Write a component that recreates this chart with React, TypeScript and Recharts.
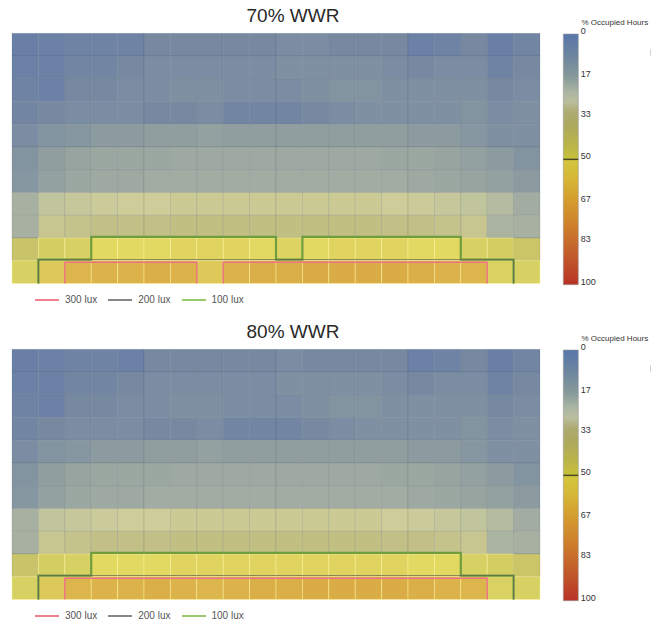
import React from "react";
import {
  ComposedChart,
  BarChart,
  Bar,
  Scatter,
  XAxis,
  YAxis,
  ReferenceLine,
  Legend,
} from "recharts";

// grid size (columns across the room, rows from window wall at the top)
const COLS = 20;
const ROWS = 11;

// % occupied hours, 70% WWR, row by row from the top
const WWR70 = [
  [4, 5, 6, 6, 6, 8, 8, 8, 8, 8, 9, 9, 8, 8, 8, 5, 6, 8, 4, 7],
  [5, 5, 7, 7, 8, 9, 9, 9, 9, 9, 10, 10, 10, 10, 9, 8, 9, 9, 6, 8],
  [6, 5, 8, 8, 9, 9, 10, 10, 9, 9, 9, 10, 11, 11, 10, 10, 10, 10, 8, 9],
  [7, 8, 9, 9, 9, 8, 8, 9, 7, 7, 7, 8, 9, 10, 10, 10, 10, 11, 9, 10],
  [9, 11, 12, 13, 13, 14, 14, 15, 14, 14, 14, 14, 14, 14, 14, 13, 13, 12, 10, 10],
  [11, 14, 16, 17, 17, 17, 18, 18, 18, 18, 18, 18, 18, 18, 17, 17, 16, 15, 13, 11],
  [12, 15, 17, 18, 18, 19, 19, 19, 19, 19, 19, 19, 19, 19, 19, 18, 17, 16, 15, 13],
  [20, 26, 27, 28, 29, 29, 30, 30, 30, 30, 30, 30, 30, 30, 29, 28, 27, 26, 23, 19],
  [20, 31, 32, 33, 33, 33, 34, 34, 34, 34, 34, 34, 34, 34, 33, 33, 32, 31, 21, 20],
  [41, 46, 47, 51, 51, 51, 52, 52, 52, 51, 49, 51, 52, 52, 52, 51, 51, 47, 46, 42],
  [47, 54, 58, 59, 59, 60, 59, 54, 59, 60, 60, 61, 61, 61, 61, 60, 59, 58, 48, 47],
];

// % occupied hours, 80% WWR
const WWR80 = [
  [4, 5, 6, 6, 5, 8, 8, 8, 8, 8, 9, 8, 8, 8, 8, 5, 6, 8, 4, 7],
  [5, 5, 7, 7, 8, 9, 9, 9, 9, 9, 10, 10, 10, 10, 9, 8, 9, 9, 6, 8],
  [6, 5, 8, 8, 9, 9, 10, 10, 9, 9, 9, 10, 11, 11, 10, 10, 10, 10, 8, 9],
  [7, 8, 9, 9, 9, 8, 8, 9, 7, 7, 7, 8, 9, 10, 10, 10, 10, 11, 9, 10],
  [9, 11, 12, 13, 13, 14, 14, 15, 14, 14, 14, 14, 14, 14, 14, 13, 13, 12, 10, 10],
  [11, 14, 16, 17, 17, 17, 18, 18, 18, 18, 18, 18, 18, 18, 17, 17, 16, 15, 13, 11],
  [12, 15, 17, 18, 18, 19, 19, 19, 19, 19, 19, 19, 19, 19, 19, 18, 17, 16, 15, 13],
  [20, 26, 27, 28, 29, 29, 30, 30, 30, 30, 30, 30, 30, 30, 29, 28, 27, 26, 23, 19],
  [20, 31, 32, 33, 33, 33, 34, 34, 34, 34, 34, 34, 34, 34, 33, 33, 32, 31, 21, 20],
  [41, 46, 47, 51, 51, 51, 52, 52, 52, 52, 52, 52, 52, 52, 52, 51, 51, 47, 46, 42],
  [47, 54, 58, 59, 59, 60, 59, 58, 59, 60, 60, 61, 61, 61, 61, 60, 59, 58, 48, 47],
];

// illuminance contours, vertices in grid units [column edge, row edge]
const LUX100_70 = [[1, 11], [1, 10], [3, 10], [3, 9], [10, 9], [10, 10], [11, 10], [11, 9], [17, 9], [17, 10], [19, 10], [19, 11]];
const LUX200_70 = [[1, 11], [1, 10], [19, 10], [19, 11]];
const LUX300_70A = [[2, 11], [2, 10], [7, 10], [7, 11]];
const LUX300_70B = [[8, 11], [8, 10], [18, 10], [18, 11]];

const LUX100_80 = [[1, 11], [1, 10], [3, 10], [3, 9], [17, 9], [17, 10], [19, 10], [19, 11]];
const LUX200_80 = [[1, 11], [1, 10], [19, 10], [19, 11]];
const LUX300_80 = [[2, 11], [2, 10], [18, 10], [18, 11]];

const SCALE_TICKS = [0, 17, 33, 50, 67, 83, 100];

const LEGEND_ITEMS = [
  { label: "300 lux", color: "#ec7480" },
  { label: "200 lux", color: "#7a7a7a" },
  { label: "100 lux", color: "#8dc35b" },
];

// colour of the cells (washed out) and of the scale bar
const CELL_RAMP: [number, string][] = [
  [0, "#6279a8"], [5, "#6b81a6"], [8, "#7689a1"], [10, "#7e90a2"], [13, "#8c9ba0"],
  [16, "#97a4a0"], [19, "#a2aca2"], [24, "#b9bf9f"], [29, "#cecd99"], [33, "#c2bf87"],
  [38, "#c2be70"], [44, "#cfc962"], [48, "#d9d262"], [51, "#e2d962"], [54, "#ddc85a"],
  [58, "#dcb64c"], [62, "#d9a843"], [67, "#d69a3c"], [83, "#cc6a30"], [100, "#bb3328"],
];
const BAR_RAMP: [number, string][] = [
  [0, "#5876ab"], [8, "#6a849f"], [17, "#86999a"], [23, "#aab5a2"], [27, "#b9be9d"],
  [31, "#aeab74"], [36, "#aca860"], [44, "#bab44a"], [49.5, "#c6c03c"], [50.5, "#d3c63e"],
  [58, "#d6b636"], [67, "#d49a2e"], [75, "#cf842c"], [83, "#c76b2c"], [92, "#bf4f2a"],
  [100, "#b83226"],
];

const FONT = "'Liberation Sans', Arial, sans-serif";
const W = 663;
const H = 309;
const MARGIN = { top: 33.3, left: 12, right: 123, bottom: 25.5 };
const CELL_W = (W - MARGIN.left - MARGIN.right) / COLS;
const CELL_H = (H - MARGIN.top - MARGIN.bottom) / ROWS;

function hex(c: string) {
  return [1, 3, 5].map((i) => parseInt(c.slice(i, i + 2), 16));
}

function rampColor(ramp: [number, string][], v: number) {
  for (let i = 1; i < ramp.length; i++) {
    if (v <= ramp[i][0]) {
      const [v0, c0] = ramp[i - 1];
      const [v1, c1] = ramp[i];
      const t = (v - v0) / (v1 - v0);
      const a = hex(c0);
      const b = hex(c1);
      return `rgb(${a.map((x, k) => Math.round(x + (b[k] - x) * t)).join(",")})`;
    }
  }
  return ramp[ramp.length - 1][1];
}

const CellShape = (props: any) => {
  const { cx, cy } = props;
  const v = props.payload?.v ?? props.v;
  return (
    <rect
      x={cx - CELL_W / 2}
      y={cy - CELL_H / 2}
      width={CELL_W}
      height={CELL_H}
      fill={rampColor(CELL_RAMP, v)}
      stroke={v < 45 ? "rgba(50,60,80,0.16)" : "rgba(255,248,160,0.55)"}
      strokeWidth={0.8}
    />
  );
};

const NoDot = () => <g />;

function toLine(pts: number[][], dy: number) {
  return pts.map(([x, y]) => ({ x, y: y < ROWS ? y + dy : y }));
}

function LegendRow() {
  return (
    <div style={{ display: "flex", alignItems: "center", fontFamily: FONT, fontSize: 10, color: "#555" }}>
      {LEGEND_ITEMS.map((it) => (
        <div key={it.label} style={{ display: "flex", alignItems: "center", marginRight: 11 }}>
          <svg width={24} height={4} style={{ marginRight: 6 }}>
            <line x1={0} y1={2} x2={24} y2={2} stroke={it.color} strokeWidth={1.8} />
          </svg>
          <span>{it.label}</span>
        </div>
      ))}
    </div>
  );
}

const ScaleTick = (props: any) => {
  const { x, y, payload } = props;
  return (
    <text x={x} y={y - 3} dominantBaseline="central" fontSize={9} fill="#333" fontFamily={FONT}>
      {payload.value}
    </text>
  );
};

function ColorBar() {
  return (
    <div style={{ position: "absolute", left: 548, top: 0 }}>
      <div
        style={{
          position: "absolute",
          left: 33.5,
          top: 17.5,
          fontFamily: FONT,
          fontSize: 8,
          color: "#333",
          whiteSpace: "nowrap",
        }}
      >
        % Occupied Hours
      </div>
      <div style={{ position: "absolute", left: 102, top: 49, width: 1, height: 7, background: "#d4d4d4" }} />
      <BarChart
        width={115}
        height={H}
        data={[{ name: "scale", v: 100 }]}
        margin={{ top: 34, left: 15.3, right: 44.7, bottom: H - 284.7 }}
        barCategoryGap={0}
      >
        <defs>
          <linearGradient id="occGrad" x1="0" y1="0" x2="0" y2="1">
            {BAR_RAMP.map(([v, c]) => (
              <stop key={v} offset={`${v}%`} stopColor={c} />
            ))}
          </linearGradient>
        </defs>
        <XAxis dataKey="name" hide />
        <YAxis
          orientation="right"
          type="number"
          domain={[0, 100]}
          reversed
          ticks={SCALE_TICKS}
          interval={0}
          width={40}
          axisLine={false}
          tickLine={false}
          tickSize={0}
          tickMargin={2.5}
          tick={ScaleTick}
        />
        <Bar dataKey="v" fill="url(#occGrad)" stroke="#9a9a9a" strokeWidth={0.6} isAnimationActive={false} />
        <ReferenceLine y={50} stroke="#4a4a26" strokeWidth={1.5} />
      </BarChart>
    </div>
  );
}

function Panel({ title, grid, lux100, lux200, lux300, top }: any) {
  const cells: { x: number; y: number; v: number }[] = [];
  grid.forEach((row: number[], r: number) =>
    row.forEach((v, c) => cells.push({ x: c + 0.5, y: r + 0.5, v }))
  );
  const contourLines = [
    ...lux100.map((pts: number[][]) => ({ pts, dy: -0.05, stroke: "#6f9d3f", w: 2.2, o: 1 })),
    ...lux200.map((pts: number[][]) => ({ pts, dy: -0.05, stroke: "#5f6450", w: 1, o: 0.75 })),
    ...lux300.map((pts: number[][]) => ({ pts, dy: 0.07, stroke: "#ec7480", w: 1.5, o: 1 })),
  ];
  return (
    <div style={{ position: "absolute", left: 0, top, width: W, height: H }}>
      <div
        style={{
          position: "absolute",
          left: 0,
          width: 586,
          top: 5,
          textAlign: "center",
          fontFamily: FONT,
          fontSize: 19,
          color: "#2a2a2a",
        }}
      >
        {title}
      </div>
      <ComposedChart width={W} height={H} margin={MARGIN}>
        <XAxis type="number" dataKey="x" domain={[0, COLS]} hide />
        <YAxis type="number" dataKey="y" domain={[0, ROWS]} reversed hide />
        <Scatter data={cells} dataKey="y" shape={CellShape} isAnimationActive={false} legendType="none" />
        {contourLines.map((c, i) => (
          <Scatter
            key={i}
            data={toLine(c.pts, c.dy)}
            dataKey="y"
            shape={NoDot}
            line={{ stroke: c.stroke, strokeWidth: c.w, strokeOpacity: c.o, fill: "none" }}
            lineType="joint"
            legendType="none"
            isAnimationActive={false}
          />
        ))}
        <Legend
          verticalAlign="middle"
          layout="horizontal"
          content={() => <LegendRow />}
          wrapperStyle={{ position: "absolute", left: 35, top: 294, width: 320, height: 14 }}
        />
      </ComposedChart>
      <ColorBar />
    </div>
  );
}

export default function App() {
  return (
    <div style={{ position: "absolute", left: 0, top: 0, width: W, height: 625, background: "#fff" }}>
      <Panel title="70% WWR" grid={WWR70} lux100={[LUX100_70]} lux200={[LUX200_70]} lux300={[LUX300_70A, LUX300_70B]} top={0} />
      <Panel title="80% WWR" grid={WWR80} lux100={[LUX100_80]} lux200={[LUX200_80]} lux300={[LUX300_80]} top={316} />
    </div>
  );
}
